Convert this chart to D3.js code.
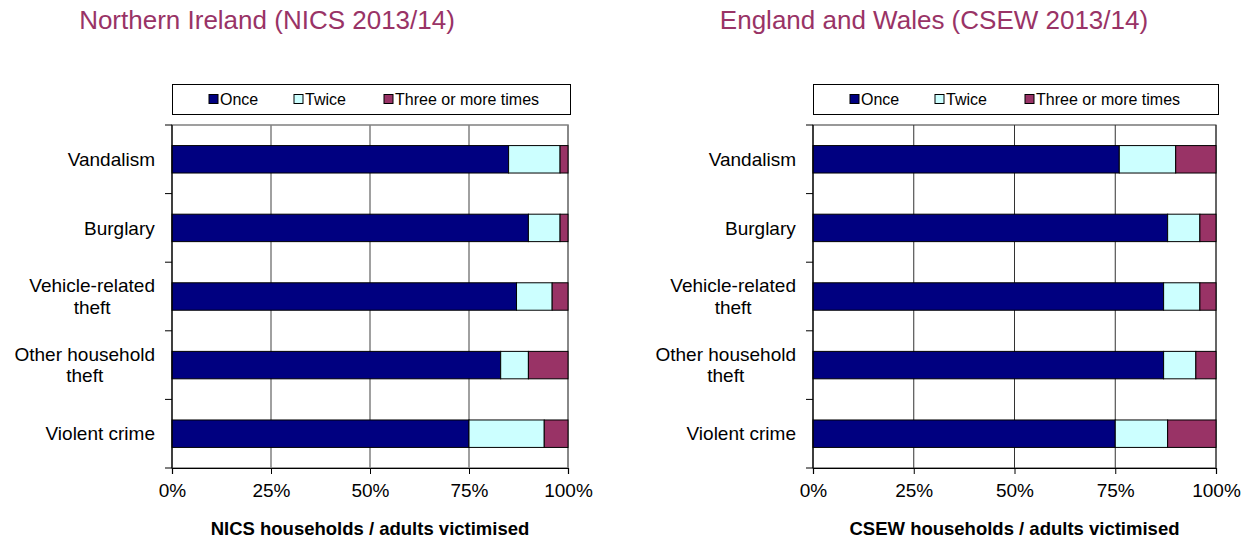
<!DOCTYPE html>
<html>
<head>
<meta charset="utf-8">
<script src="https://cdn.jsdelivr.net/npm/d3@7"></script>
<style>
  body { margin: 0; background: #fff; }
  svg { font-family: "Liberation Sans", Arial, sans-serif; }
</style>
</head>
<body>
<svg width="1250" height="539"></svg>
<script>
// categories, top to bottom
var categories = ["Vandalism", "Burglary", "Vehicle-related theft", "Other household theft", "Violent crime"];
var categoryLines = [["Vandalism"], ["Burglary"], ["Vehicle-related", "theft"], ["Other household", "theft"], ["Violent crime"]];
var seriesNames = ["Once", "Twice", "Three or more times"];
var seriesColors = ["#000080", "#CCFFFF", "#993366"];
var xTicks = [0, 25, 50, 75, 100];

// Northern Ireland (NICS 2013/14)
var niOnce  = [85, 90, 87, 83, 75];
var niTwice = [13, 8, 9, 7, 19];
var niThree = [2, 2, 4, 10, 6];

// England and Wales (CSEW 2013/14)
var ewOnce  = [76, 88, 87, 87, 75];
var ewTwice = [14, 8, 9, 8, 13];
var ewThree = [10, 4, 4, 5, 12];

var svg = d3.select("svg");

function toRows(once, twice, three) {
    return categories.map(function (c, i) {
        return {cat: c, "Once": once[i], "Twice": twice[i], "Three or more times": three[i]};
    });
}

function drawChart(cfg) {
    var g = svg.append("g");
    var rows = toRows(cfg.once, cfg.twice, cfg.three);

    var x = d3.scaleLinear().domain([0, 100]).range([cfg.left, cfg.right]);
    var y = d3.scaleBand().domain(categories).range([cfg.top, cfg.bottom]).padding(0);
    var barH = y.bandwidth() * 0.4;

    // title
    g.append("text")
        .attr("x", cfg.titleX).attr("y", 29)
        .attr("text-anchor", "middle")
        .attr("font-size", 26)
        .attr("fill", "#993366")
        .text(cfg.title);

    // plot border
    g.append("rect")
        .attr("x", cfg.left).attr("y", cfg.top)
        .attr("width", cfg.right - cfg.left).attr("height", cfg.bottom - cfg.top)
        .attr("fill", "#fff")
        .attr("stroke", cfg.gridColor).attr("stroke-width", cfg.gridWidth);

    // vertical gridlines
    g.selectAll(".grid")
        .data(xTicks.slice(1))
        .enter().append("line")
        .attr("x1", function (d) { return x(d); })
        .attr("x2", function (d) { return x(d); })
        .attr("y1", cfg.top).attr("y2", cfg.bottom)
        .attr("stroke", cfg.gridColor).attr("stroke-width", cfg.gridWidth);

    // stacked bars
    var stacked = d3.stack().keys(seriesNames)(rows);
    g.selectAll(".series")
        .data(stacked)
        .enter().append("g")
        .attr("fill", function (d, i) { return seriesColors[i]; })
        .selectAll("rect")
        .data(function (d) { return d; })
        .enter().append("rect")
        .attr("x", function (d) { return x(d[0]); })
        .attr("width", function (d) { return x(d[1]) - x(d[0]); })
        .attr("y", function (d) { return y(d.data.cat) + (y.bandwidth() - barH) / 2; })
        .attr("height", barH)
        .attr("stroke", "#000").attr("stroke-width", 1);

    // x axis
    var xAxis = g.append("g")
        .attr("transform", "translate(0," + cfg.bottom + ")")
        .call(d3.axisBottom(x).tickValues(xTicks).tickSize(6).tickPadding(10)
            .tickFormat(function (d) { return d + "%"; }));
    xAxis.select(".domain").attr("stroke", "#000").attr("stroke-width", 1.2);
    xAxis.selectAll(".tick line").attr("stroke", "#000");
    xAxis.selectAll("text").attr("font-size", 19).attr("fill", "#000")
        .attr("font-family", "Liberation Sans, Arial, sans-serif");

    // y axis line and ticks at band boundaries
    g.append("line")
        .attr("x1", cfg.left).attr("x2", cfg.left)
        .attr("y1", cfg.top).attr("y2", cfg.bottom)
        .attr("stroke", "#000").attr("stroke-width", 1.2);
    var bounds = categories.map(function (c) { return y(c); }).concat([cfg.bottom]);
    g.selectAll(".ytick")
        .data(bounds)
        .enter().append("line")
        .attr("x1", cfg.left - 7).attr("x2", cfg.left)
        .attr("y1", function (d) { return d; }).attr("y2", function (d) { return d; })
        .attr("stroke", "#000");

    // category labels: lines centred on each other, block right-aligned
    categories.forEach(function (c, i) {
        var lines = categoryLines[i];
        var lh = 21.5;
        var cy = y(c) + y.bandwidth() / 2;
        var t = g.append("text")
            .attr("font-size", 19)
            .attr("text-anchor", "middle")
            .attr("fill", "#000");
        lines.forEach(function (ln, j) {
            t.append("tspan")
                .attr("x", 0)
                .attr("y", cy - (lines.length - 1) * lh / 2 + j * lh + 6.6)
                .text(ln);
        });
        var w = t.node().getBBox().width;
        t.selectAll("tspan").attr("x", cfg.left - 17 - w / 2);
    });

    // x axis title
    g.append("text")
        .attr("x", (cfg.left + cfg.right) / 2).attr("y", 535)
        .attr("text-anchor", "middle")
        .attr("font-size", 18.5).attr("font-weight", "bold")
        .text(cfg.xTitle);

    // legend
    var lg = g.append("g");
    lg.append("rect")
        .attr("x", cfg.left + 0.5).attr("y", 84.5)
        .attr("width", cfg.right - cfg.left + 2).attr("height", 30)
        .attr("fill", "#fff").attr("stroke", "#000").attr("stroke-width", 1);
    var offsets = [37, 122, 212];
    seriesNames.forEach(function (s, i) {
        var lx = cfg.left + offsets[i];
        lg.append("rect")
            .attr("x", lx).attr("y", 94.5)
            .attr("width", 9).attr("height", 9)
            .attr("fill", seriesColors[i]).attr("stroke", "#000");
        lg.append("text")
            .attr("x", lx + 11).attr("y", 105)
            .attr("font-size", 16)
            .text(s);
    });
}

drawChart({
    title: "Northern Ireland (NICS 2013/14)",
    titleX: 267,
    xTitle: "NICS households / adults victimised",
    once: niOnce, twice: niTwice, three: niThree,
    left: 172, right: 568, top: 125, bottom: 468,
    gridColor: "#808080", gridWidth: 1.5
});

drawChart({
    title: "England and Wales (CSEW 2013/14)",
    titleX: 934,
    xTitle: "CSEW households / adults victimised",
    once: ewOnce, twice: ewTwice, three: ewThree,
    left: 813, right: 1216, top: 125, bottom: 468,
    gridColor: "#333333", gridWidth: 1
});
</script>
</body>
</html>
